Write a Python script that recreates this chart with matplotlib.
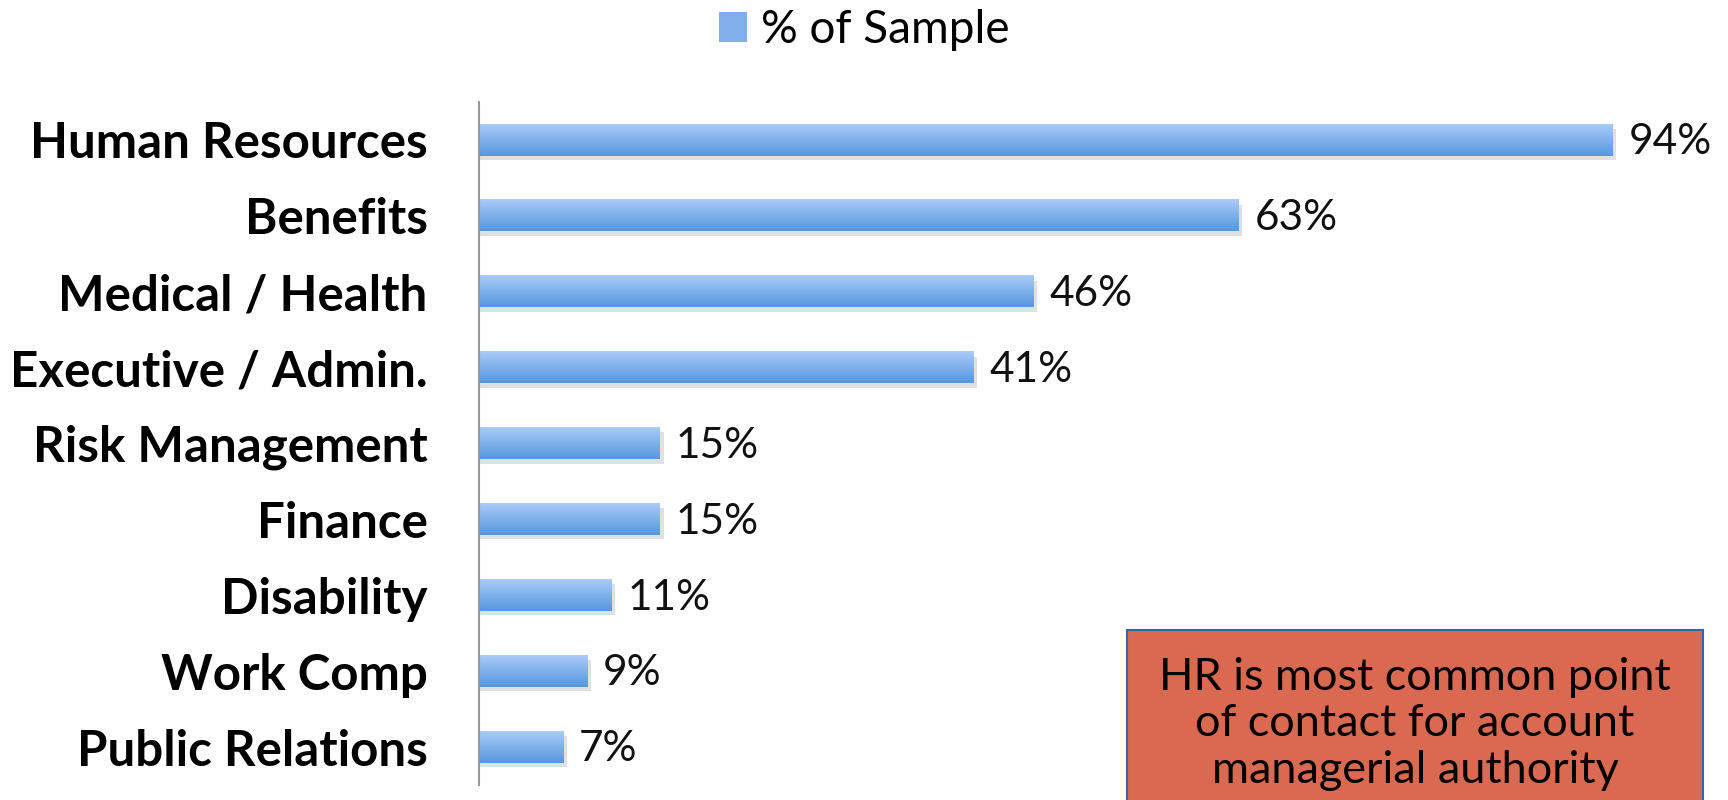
import numpy as np
import matplotlib
matplotlib.use('Agg')
import matplotlib.pyplot as plt
from matplotlib.patches import Patch, Rectangle

categories = ['Human Resources', 'Benefits', 'Medical / Health', 'Executive / Admin.',
              'Risk Management', 'Finance', 'Disability', 'Work Comp', 'Public Relations']
values = [94, 63, 46, 41, 15, 15, 11, 9, 7]
legend_label = '% of Sample'
note = 'HR is most common point\nof contact for account\nmanagerial authority'

plt.rcParams['font.family'] = ['Lato', 'DejaVu Sans']

fig = plt.figure(figsize=(17.28, 8), dpi=100)
ax = fig.add_axes([479 / 1728, 15 / 800, 1206 / 1728, 683 / 800])

y = np.arange(len(categories))
bar_h = 0.41

# gradient from light (top) to darker blue (bottom)
grad = np.linspace(0, 1, 64).reshape(-1, 1)
cmap = matplotlib.colors.LinearSegmentedColormap.from_list('g', ['#A9CBF8', '#5797DE'])

bars = ax.barh(y, values, height=bar_h, color='none')
for b, v in zip(bars, values):
    x0, y0, w, h = b.get_x(), b.get_y(), b.get_width(), b.get_height()
    # soft shadow
    ax.barh(y0 + h / 2 + 0.06, w + 0.3, height=h, left=x0, color='#9a9a9a', alpha=0.3, zorder=1)
    ax.imshow(grad, extent=(x0, x0 + w, y0 + h, y0), aspect='auto', cmap=cmap, zorder=2)
    ax.text(x0 + w + 1.3, y0 + h / 2 + 0.03, f'{v}%', va='center', ha='left', fontsize=30.5,
            color='#111111')

ax.set_xlim(0, 100)
ax.set_ylim(len(categories) - 0.5, -0.5)
ax.set_yticks(y)
ax.set_yticklabels(categories, fontsize=35.5, fontweight='bold')
ax.tick_params(axis='y', length=0, pad=37)
ax.set_xticks([])
for s in ['top', 'right', 'bottom']:
    ax.spines[s].set_visible(False)
ax.spines['left'].set_color('#999999')
ax.spines['left'].set_linewidth(1.5)

handle = Patch(facecolor='#7FB0EC', edgecolor='none')
fig.legend([handle], [legend_label], loc='center', bbox_to_anchor=(0.5, 0.962), frameon=False,
           fontsize=33, handlelength=0.62, handleheight=0.62, handletextpad=0.3)

fig.patches.append(Rectangle((1127 / 1728, -0.05), 576 / 1728, 0.05 + 170 / 800,
                             transform=fig.transFigure, facecolor='#D96A51',
                             edgecolor='#3465A4', linewidth=1.5))
fig.text(1415 / 1728, 76 / 800, note, ha='center', va='center', fontsize=32.5, color='black',
         linespacing=1.17)

fig.savefig('out.png', dpi=100)
